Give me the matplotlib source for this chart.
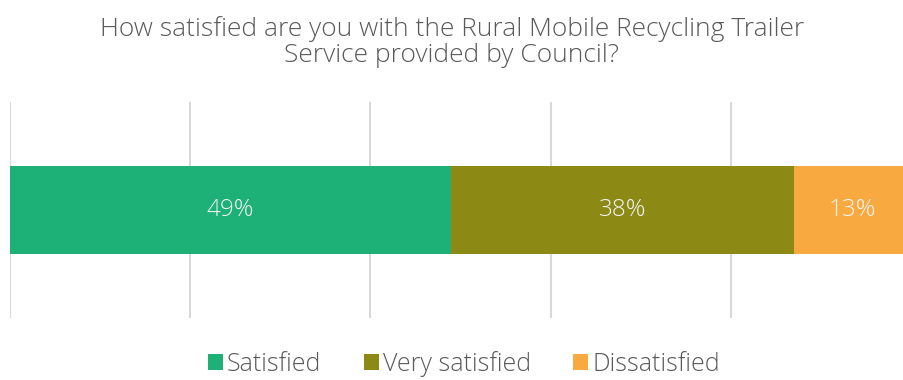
import matplotlib
matplotlib.use("Agg")
import matplotlib.pyplot as plt
from matplotlib.patches import Patch

categories = ["Satisfied", "Very satisfied", "Dissatisfied"]
shares = [49, 38, 13]
colors = ["#1db077", "#8c8a15", "#f8aa41"]
ticks = [0, 20, 40, 60, 80, 100]

plt.rcParams['font.family'] = ['Open Sans', 'DejaVu Sans']

fig = plt.figure(figsize=(9.04, 3.8), dpi=100)
# axes run a little past the right edge, so the 100% gridline is cut off
ax = fig.add_axes([10 / 904, 1 - 318 / 380, 901 / 904, 216 / 380])

left = 0
for name, val, col in zip(categories, shares, colors):
    ax.barh(0, val, left=left, height=0.403, color=col, zorder=2)
    ax.text(left + val / 2, 0, f"{val}%", ha="center", va="center",
            color="#f4f4f4", fontsize=17.5, fontweight="light", zorder=3)
    left += val

ax.set_xlim(0, 100)
ax.set_ylim(-0.5, 0.5)
ax.set_xticks(ticks)
ax.set_yticks([])
ax.xaxis.grid(True, color="#d9d9d9", linewidth=1.5, zorder=0)
ax.tick_params(axis="x", length=0, labelbottom=False)
for s in ax.spines.values():
    s.set_visible(False)

fig.text(0.5, 1 - 42 / 380, "How satisfied are you with the Rural Mobile Recycling Trailer\nService provided by Council?",
         ha="center", va="center", fontsize=19, color="#595959", fontweight="light",
         linespacing=1.1)

handles = [Patch(facecolor=c, edgecolor="none") for c in colors]
fig.legend(handles, categories, loc="center", bbox_to_anchor=(464 / 904, 1 - 364 / 380),
           ncol=3, frameon=False, handlelength=0.6, handleheight=0.6,
           handletextpad=0.15, columnspacing=1.7, labelcolor="#595959",
           prop={"weight": "light", "size": 18})

fig.savefig("out.png", dpi=100)
